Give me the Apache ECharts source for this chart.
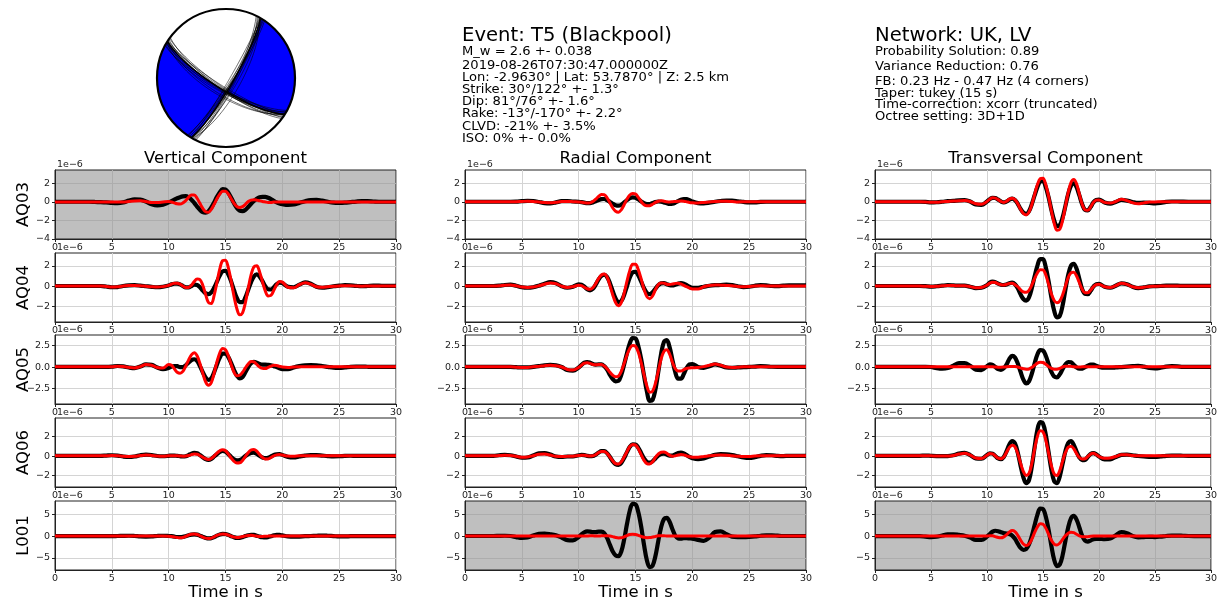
<!DOCTYPE html>
<html>
<head>
<meta charset="utf-8">
<script src="https://cdn.jsdelivr.net/npm/echarts@6/dist/echarts.min.js"></script>
<style>
html,body{margin:0;padding:0;background:#fff;}
#chart{width:1220px;height:602px;}
</style>
</head>
<body>
<div id="chart"></div>
<script>
// ---- sample times (s): 0.5 s steps outside the main arrivals, 0.25 s steps from 10 to 20 s
const TIME = [
  0,0.5,1,1.5,2,2.5,3,3.5,4,4.5,5,5.5,6,6.5,7,7.5,8,8.5,9,9.5,10,
  10.25,10.5,10.75,11,11.25,11.5,11.75,12, 12.25,12.5,12.75,13,13.25,13.5,13.75,14,
  14.25,14.5,14.75,15,15.25,15.5,15.75,16, 16.25,16.5,16.75,17,17.25,17.5,17.75,18,
  18.25,18.5,18.75,19,19.25,19.5,19.75,20,
  20.5,21,21.5,22,22.5,23,23.5,24,24.5,25,25.5,26,26.5,27,27.5,28,28.5,29,29.5,30
];

const STATIONS = ['AQ03', 'AQ04', 'AQ05', 'AQ06', 'L001'];
const COMPONENTS = ['Vertical Component', 'Radial Component', 'Transversal Component'];
const X_TICKS = [0, 5, 10, 15, 20, 25, 30];
const Y_TICKS = [[-4, -2, 0, 2], [-2, 0, 2], [-2.5, 0, 2.5], [-2, 0, 2], [-5, 0, 5]];
const Y_RANGE = [[-4.0, 3.45], [-3.5, 3.25], [-4.27, 3.7], [-3.2, 3.93], [-7.75, 8.07]];
const AMPLITUDE_UNIT = '1e\u22126';

// ---- waveforms in units of 1e-6 (black = observed, red = synthetic)
const vertAQ03Obs = [
  0.02,0.02,0.02,0.02,0.02,0.02,0.02,0,-0.02,-0.05,-0.1,-0.12,-0.05,0.15,0.28,0.25,0.05,-0.25,-0.38,-0.3,-0.05,
  0.1,0.25,0.4,0.52,0.6,0.62,0.5,0.25, -0.1,-0.5,-0.85,-1.1,-1.15,-1,-0.6,-0.05, 0.55,1.05,1.38,1.35,1,0.45,-0.15,-0.65, -0.95,-1,-0.85,-0.55,-0.2,0.1,0.35,0.5, 0.55,0.55,0.45,0.3,0.12,-0.05,-0.18,-0.25,
  -0.32,-0.28,-0.1,0.08,0.2,0.22,0.15,0.02,-0.08,-0.1, -0.08,-0.02,0.04,0.08,0.08,0.05,0.02,0.02,0.02,0.02
];
const vertAQ03Syn = [
  0,0,0,0,0,0,0,0,0,0,0,0,0,0.05,0.1,0.12,0.05,-0.05,-0.05,0,0.05,
  0,-0.1,-0.2,-0.22,-0.1,0.15,0.5,0.75, 0.75,0.4,-0.15,-0.7,-1.05,-1.1,-0.8,-0.25, 0.35,0.85,1.15,1.15,0.85,0.35,-0.15,-0.5, -0.6,-0.5,-0.25,0.05,0.2,0.25,0.2,0.12, 0.05,0,-0.05,-0.05,0,0,0,0,
  0,0,0,0,0,0,0,0,0,0, 0,0,0,0,0,0,0,0,0,0
];
const vertAQ04Obs = [
  0.02,0.02,0.02,0.02,0.02,0.02,0.02,0.02,0.02,-0.03,-0.1,-0.08,0.02,0.08,0.1,0.06,0,-0.06,-0.1,-0.05,0.08,
  0.18,0.24,0.25,0.18,0.02,-0.12,-0.12,0.02, 0.15,0.12,-0.1,-0.42,-0.7,-0.78,-0.6,-0.15, 0.45,1.05,1.45,1.5,1.15,0.45,-0.4,-1.15, -1.55,-1.55,-1.1,-0.35,0.4,0.95,1.15,0.95, 0.5,0,-0.3,-0.32,-0.1,0.2,0.35,0.3,
  -0.05,-0.1,0.15,0.38,0.25,-0.05,-0.15,-0.1,0,0.05, 0.1,0.08,0.03,0,0.02,0.05,0.05,0.03,0.03,0.03
];
const vertAQ04Syn = [
  0.02,0.02,0.02,0.02,0.02,0.02,0.02,0.02,0.02,-0.02,-0.08,-0.06,0.02,0.06,0.08,0.05,0,-0.05,-0.08,-0.04,0.08,
  0.2,0.3,0.3,0.2,0.02,-0.12,-0.12,0.1, 0.45,0.7,0.65,0.1,-0.8,-1.6,-1.7,-0.9, 0.4,1.7,2.5,2.55,1.8,0.5,-1,-2.2, -2.8,-2.6,-1.6,-0.2,1.1,1.9,2,1.4, 0.45,-0.45,-0.95,-0.9,-0.4,0.15,0.45,0.4,
  -0.1,-0.15,0.15,0.35,0.2,-0.05,-0.1,-0.05,0,0.03, 0.05,0.05,0.02,0,0.02,0.03,0.03,0.02,0.02,0.02
];
const vertAQ05Obs = [
  0.02,0.02,0.02,0.02,0.02,0.02,0.02,0.02,0.02,0.02,0.05,0.12,0.08,-0.05,-0.12,0.05,0.3,0.25,-0.05,-0.25,-0.12,
  0.05,0.12,0.1,0,0,0.2,0.5,0.8, 0.9,0.7,0.1,-0.6,-1.2,-1.5,-1.3,-0.6, 0.3,1.1,1.55,1.55,1.15,0.45,-0.35,-1, -1.3,-1.15,-0.6,0,0.45,0.6,0.5,0.35, 0.28,0.28,0.25,0.2,0.1,0,-0.15,-0.25,
  -0.25,-0.05,0.1,0.2,0.22,0.2,0.12,0.02,-0.08,-0.1, -0.05,0.02,0.05,0.05,0.03,0.02,0.02,0.02,0.02,0.02
];
const vertAQ05Syn = [
  0.02,0.02,0.02,0.02,0.02,0.02,0.02,0.02,0.02,0.02,0.04,0.1,0.06,-0.04,-0.1,0.05,0.28,0.2,-0.05,-0.12,0.3,
  0.2,-0.2,-0.6,-0.72,-0.5,0.1,0.8,1.4, 1.65,1.3,0.4,-0.7,-1.7,-2.1,-1.8,-0.7, 0.6,1.65,2.15,2,1.3,0.3,-0.6,-1, -0.95,-0.6,-0.1,0.35,0.65,0.6,0.3,0, -0.15,-0.18,-0.05,0.1,0.2,0.18,0.08,0,
  -0.05,0,0.02,0.02,0.02,0.02,0.02,0.02,0.02,0.02, 0.02,0.02,0.02,0.02,0.02,0.02,0.02,0.02,0.02,0.02
];
const vertAQ06Obs = [
  0.02,0.02,0.02,0.02,0.02,0.02,0.02,0.02,0.02,0.05,0.08,0.05,-0.05,-0.1,-0.05,0.08,0.15,0.1,0,-0.02,0.02,
  0.05,0.05,0.02,-0.02,-0.05,-0.02,0.1,0.25, 0.32,0.28,0.1,-0.12,-0.32,-0.4,-0.3,-0.05, 0.2,0.42,0.52,0.45,0.2,-0.1,-0.35,-0.45, -0.42,-0.25,0,0.2,0.32,0.35,0.22,0.02, -0.15,-0.22,-0.18,-0.05,0.1,0.18,0.2,0.12,
  -0.1,-0.15,-0.05,0.05,0.1,0.1,0.05,0,-0.03,-0.02, 0.02,0.03,0.02,0.02,0.02,0.02,0.02,0.02,0.02,0.02
];
const vertAQ06Syn = [
  0.02,0.02,0.02,0.02,0.02,0.02,0.02,0.02,0.02,0.03,0.05,0.03,-0.03,-0.06,-0.03,0.05,0.1,0.06,0,-0.02,0.02,
  0.03,0.03,0.02,0,-0.02,0,0.05,0.15, 0.2,0.18,0.05,-0.12,-0.28,-0.35,-0.25,0, 0.3,0.55,0.65,0.55,0.2,-0.2,-0.55,-0.72, -0.7,-0.45,-0.05,0.35,0.62,0.68,0.5,0.15, -0.15,-0.3,-0.3,-0.15,0.02,0.12,0.15,0.1,
  0,-0.02,0.02,0.02,0.02,0.02,0.02,0.02,0.02,0.02, 0.02,0.02,0.02,0.02,0.02,0.02,0.02,0.02,0.02,0.02
];
const vertL001Obs = [
  0.02,0.02,0.02,0.02,0.02,0.02,0.02,0.02,0.02,0.02,0.02,0.05,0.08,0.1,0.05,-0.05,-0.08,-0.05,0.05,0.1,0.05,
  0,-0.1,-0.18,-0.2,-0.15,0,0.2,0.35, 0.42,0.35,0.12,-0.15,-0.38,-0.5,-0.45,-0.2, 0.12,0.4,0.52,0.5,0.3,0,-0.25,-0.38, -0.38,-0.22,0.02,0.22,0.32,0.3,0.12,-0.1, -0.25,-0.3,-0.2,0,0.2,0.32,0.3,0.18,
  -0.05,-0.12,-0.08,0,0.05,0.1,0.15,0.1,0.02,-0.05, -0.05,0,0.02,0.02,0.02,0.02,0.02,0.02,0.02,0.02
];
const vertL001Syn = [
  0.02,0.02,0.02,0.02,0.02,0.02,0.02,0.02,0.02,0.02,0.02,0.02,0.02,0.02,0.02,0.02,0.02,0.02,0.02,0.02,0,
  -0.05,-0.18,-0.3,-0.38,-0.3,-0.05,0.25,0.45, 0.5,0.4,0.1,-0.2,-0.45,-0.55,-0.45,-0.15, 0.18,0.42,0.5,0.45,0.25,-0.02,-0.22,-0.3, -0.25,-0.1,0.08,0.18,0.2,0.12,0.02,-0.05, -0.05,0,0.02,0.04,0.05,0.05,0.03,0.02,
  0.02,0.02,0.02,0.02,0.02,0.02,0.02,0.02,0.02,0.02, 0.02,0.02,0.02,0.02,0.02,0.02,0.02,0.02,0.02,0.02
];

const radAQ03Obs = [
  0.02,0.02,0.02,0.02,0.02,0.02,0.02,0.02,0.02,0.03,0.08,0.12,0.1,0,-0.12,-0.15,-0.05,0.08,0.1,0.05,0.02,
  -0.02,-0.08,-0.12,-0.12,-0.05,0.08,0.2,0.3, 0.32,0.2,0,-0.2,-0.35,-0.4,-0.3,-0.05, 0.2,0.42,0.5,0.45,0.28,0.05,-0.12,-0.22, -0.22,-0.12,0,0.05,0.02,-0.05,-0.15,-0.22, -0.2,-0.08,0.1,0.25,0.32,0.3,0.2,0.05,
  -0.12,-0.15,-0.08,0.02,0.1,0.15,0.15,0.08,0,-0.05, -0.05,0,0.02,0.02,0.02,0.02,0.02,0.02,0.02,0.02
];
const radAQ03Syn = [
  0.02,0.02,0.02,0.02,0.02,0.02,0.02,0.02,0.02,0.02,0.05,0.08,0.06,0,-0.06,-0.08,-0.03,0.04,0.05,0.03,0,
  -0.02,-0.08,-0.12,-0.1,0.05,0.3,0.6,0.8, 0.78,0.45,-0.1,-0.65,-1,-1.1,-0.85,-0.3, 0.3,0.75,0.92,0.85,0.5,0.05,-0.3,-0.42, -0.4,-0.25,-0.05,0.08,0.12,0.08,0.02,0, 0.02,0.05,0.08,0.1,0.08,0.02,-0.05,-0.08,
  -0.1,-0.05,0,0.05,0.08,0.08,0.05,0,0.02,0.02, 0.02,0.02,0.02,0.02,0.02,0.02,0.02,0.02,0.02,0.02
];
const radAQ04Obs = [
  0.02,0.02,0.02,0.02,0.02,0.02,0.05,0.12,0.15,0.05,-0.1,-0.15,-0.1,0.05,0.25,0.4,0.3,0,-0.15,-0.05,0.18,
  0.15,-0.05,-0.3,-0.4,-0.25,0.15,0.65,1, 1.12,0.9,0.3,-0.5,-1.2,-1.55,-1.45,-0.85, 0,0.85,1.35,1.4,1.05,0.45,-0.2,-0.65, -0.78,-0.6,-0.25,0.1,0.28,0.3,0.2,0.1, 0.08,0.15,0.25,0.3,0.25,0.1,-0.05,-0.15,
  -0.15,-0.05,0.05,0.1,0.12,0.15,0.1,0,-0.08,-0.05, 0.05,0.1,0.08,0.02,0,0.05,0.08,0.08,0.08,0.08
];
const radAQ04Syn = [
  0.02,0.02,0.02,0.02,0.02,0.02,0.04,0.1,0.12,0.04,-0.08,-0.12,-0.08,0.04,0.2,0.32,0.25,0,-0.12,-0.04,0.1,
  0.05,-0.1,-0.25,-0.3,-0.15,0.25,0.75,1.1, 1.2,0.9,0.1,-0.85,-1.6,-1.9,-1.6,-0.7, 0.5,1.55,2.15,2.15,1.6,0.7,-0.3,-1, -1.22,-0.95,-0.35,0.15,0.32,0.3,0.2,0.18, 0.22,0.28,0.3,0.22,0.08,-0.05,-0.18,-0.28,
  -0.28,-0.05,0.08,0.12,0.1,0.08,0.05,-0.02,-0.05,-0.02, 0.03,0.05,0.03,0.03,0.03,0.03,0.03,0.03,0.03,0.03
];
const radAQ05Obs = [
  0.02,0.02,0.02,0.02,0.02,0.02,0.02,0.02,0.02,-0.02,-0.05,-0.05,0.02,0.1,0.2,0.25,0.2,0,-0.35,-0.42,-0.05,
  0.25,0.5,0.58,0.5,0.35,0.28,0.3,0.3, 0.1,-0.3,-0.9,-1.4,-1.65,-1.6,-0.9,0.3, 1.6,2.75,3.35,3.3,2.4,0.9,-1,-2.8, -3.9,-3.8,-2.6,-0.6,1.5,2.9,3.1,2.3, 0.8,-0.6,-1.35,-1.35,-0.8,-0.1,0.3,0.35,
  0,-0.1,0.1,0.3,0.15,-0.05,-0.08,-0.05,-0.02,0.02, 0.05,0.1,0.08,0.03,0.02,0.02,0.02,0.02,0.02,0.02
];
const radAQ05Syn = [
  0.02,0.02,0.02,0.02,0.02,0.02,0.02,0.02,0.02,-0.02,-0.04,-0.04,0.02,0.08,0.15,0.2,0.15,0,-0.28,-0.35,-0.05,
  0.22,0.45,0.5,0.42,0.3,0.25,0.28,0.28, 0.12,-0.2,-0.6,-0.95,-1.12,-1.05,-0.5,0.4, 1.4,2.15,2.5,2.4,1.7,0.5,-0.9,-2.2, -2.9,-2.8,-1.9,-0.5,0.9,1.8,2,1.5, 0.55,-0.2,-0.45,-0.45,-0.3,-0.15,-0.1,-0.08,
  -0.05,0.05,0.2,0.35,0.2,0,-0.05,-0.03,0.02,0.02, 0.02,0.02,0.02,0.02,0.02,0.02,0.02,0.02,0.02,0.02
];
const radAQ06Obs = [
  0.02,0.02,0.02,0.02,0.02,0.02,0.08,0.12,0.08,-0.05,-0.18,-0.15,0.05,0.28,0.3,0.15,-0.05,-0.1,-0.05,-0.05,0.08,
  0.12,0.1,0.02,-0.02,0,0.15,0.35,0.5, 0.5,0.3,-0.1,-0.55,-0.85,-0.92,-0.7,-0.2, 0.4,0.95,1.22,1.2,0.85,0.3,-0.25,-0.6, -0.68,-0.55,-0.25,0.05,0.22,0.25,0.15,0.05, 0.05,0.18,0.32,0.36,0.28,0.1,-0.08,-0.22,
  -0.33,-0.25,-0.05,0.12,0.2,0.18,0.1,-0.02,-0.15,-0.2, -0.12,0.02,0.1,0.08,0.02,0,0.02,0.02,0.02,0.02
];
const radAQ06Syn = [
  0.02,0.02,0.02,0.02,0.02,0.02,0.05,0.08,0.05,-0.03,-0.12,-0.1,0.03,0.18,0.2,0.1,-0.03,-0.05,-0.03,-0.02,0.05,
  0.08,0.08,0.02,0,0.02,0.15,0.35,0.48, 0.48,0.28,-0.1,-0.5,-0.78,-0.82,-0.6,-0.1, 0.45,0.98,1.2,1.15,0.75,0.15,-0.45,-0.78, -0.82,-0.6,-0.15,0.2,0.4,0.42,0.28,0.08, -0.02,0.02,0.1,0.15,0.12,0.02,-0.08,-0.12,
  -0.12,-0.05,0.02,0.08,0.1,0.08,0.02,-0.02,-0.05,-0.05, 0,0.02,0.02,0.02,0.02,0.02,0.02,0.02,0.02,0.02
];
const radL001Obs = [
  0.05,0.05,0.05,0.05,0.05,0.05,0.08,0.1,0.05,-0.2,-0.4,-0.3,0.15,0.55,0.6,0.45,0.2,-0.3,-0.9,-0.95,-0.2,
  0.4,0.9,1.1,1.05,0.95,0.95,1.05,1.05, 0.7,-0.4,-2,-3.5,-4.4,-4.6,-3.5,-0.8, 2.8,5.9,7.4,7.3,5.5,2.2,-2,-5.5, -7.1,-6.8,-4.6,-1.2,2,3.9,4.2,3.3, 1.6,0.1,-0.5,-0.55,-0.45,-0.45,-0.5,-0.55,
  -0.85,-1.05,-0.3,0.95,1.1,0.45,-0.1,-0.2,-0.2,-0.15, -0.05,0.1,0.2,0.2,0.12,0.05,0.05,0.05,0.05,0.05
];
const radL001Syn = [
  0.02,0.02,0.02,0.02,0.02,0.02,0.02,0.02,0.02,0.02,0.02,0.02,0.02,0.02,0.02,0.02,0.02,0.02,0.02,0.02,0.02,
  0.02,0.02,0.05,0.08,0.08,0.05,0.05,0.08, 0.1,0.1,0.05,-0.1,-0.3,-0.4,-0.38,-0.15, 0.15,0.38,0.45,0.4,0.2,-0.05,-0.25,-0.35, -0.32,-0.2,-0.05,0.08,0.12,0.1,0.05,0.02, 0.02,0.02,0.02,0.02,0.02,0.02,0.02,0.02,
  0.02,0.02,0.02,0.02,0.02,0.02,0.02,0.02,0.02,0.02, 0.02,0.02,0.02,0.02,0.02,0.02,0.02,0.02,0.02,0.02
];

const transAQ03Obs = [
  0.02,0.02,0.02,0.02,0.02,0.02,0.02,0.02,0.02,0,-0.05,-0.03,0.02,0.08,0.12,0.18,0.2,0.05,-0.28,-0.32,0.05,
  0.3,0.45,0.42,0.25,0.05,-0.05,0.05,0.25, 0.35,0.2,-0.2,-0.75,-1.15,-1.28,-1,-0.25, 0.7,1.6,2.2,2.25,1.6,0.5,-0.85,-2, -2.6,-2.5,-1.7,-0.45,0.85,1.75,2,1.6, 0.7,-0.25,-0.85,-0.9,-0.55,-0.05,0.22,0.25,
  -0.05,-0.18,0,0.22,0.15,0,-0.1,-0.08,-0.1,-0.15, -0.1,0,0.05,0.05,0.03,0.02,0.02,0.02,0.02,0.02
];
const transAQ03Syn = [
  0.02,0.02,0.02,0.02,0.02,0.02,0.02,0.02,0.02,0,-0.04,-0.02,0.02,0.06,0.1,0.12,0.15,0.05,-0.2,-0.25,0.05,
  0.3,0.45,0.42,0.25,0.05,-0.05,0.08,0.3, 0.4,0.25,-0.2,-0.8,-1.25,-1.4,-1.1,-0.3, 0.8,1.85,2.5,2.55,1.85,0.6,-0.95,-2.3, -3.05,-2.95,-2,-0.5,1,2.1,2.42,1.95, 0.85,-0.25,-0.85,-0.9,-0.55,-0.05,0.2,0.22,
  -0.05,-0.12,0.05,0.28,0.15,-0.08,-0.2,-0.1,0,0, 0.02,0.02,0.02,0.02,0.02,0.02,0.02,0.02,0.02,0.02
];
const transAQ04Obs = [
  0.02,0.02,0.02,0.02,0.02,0.02,0.02,0.02,0.02,0,-0.03,0,0.05,0.1,0.08,0.05,0.05,-0.05,-0.18,-0.15,0.1,
  0.35,0.45,0.4,0.25,0.15,0.12,0.18,0.3, 0.35,0.2,-0.2,-0.8,-1.25,-1.4,-1.1,-0.2, 0.95,2,2.65,2.65,1.85,0.5,-1.1,-2.4, -3.05,-2.9,-1.9,-0.35,1.1,2,2.2,1.7, 0.7,-0.3,-0.75,-0.78,-0.45,-0.05,0.2,0.22,
  -0.05,-0.15,0.05,0.28,0.2,-0.05,-0.18,-0.12,-0.02,0, 0.02,0.05,0.05,0.05,0.03,0.03,0.03,0.03,0.03,0.03
];
const transAQ04Syn = [
  0.02,0.02,0.02,0.02,0.02,0.02,0.02,0.02,0.02,0,-0.02,0,0.04,0.08,0.06,0.04,0.04,-0.04,-0.15,-0.12,0.1,
  0.3,0.4,0.36,0.22,0.15,0.12,0.18,0.28, 0.3,0.15,-0.05,-0.35,-0.55,-0.6,-0.4,0.1, 0.75,1.3,1.62,1.6,1.1,0.2,-0.75,-1.4, -1.62,-1.45,-0.85,0,0.85,1.3,1.36,1, 0.35,-0.3,-0.65,-0.65,-0.4,-0.05,0.15,0.2,
  -0.05,-0.12,0.05,0.28,0.18,-0.05,-0.15,-0.1,-0.02,0, 0.02,0.02,0.02,0.02,0.02,0.02,0.02,0.02,0.02,0.02
];
const transAQ05Obs = [
  0.02,0.02,0.02,0.02,0.02,0.02,0.02,0.02,0.02,0.02,0,-0.12,-0.18,-0.12,0.15,0.45,0.45,0.15,-0.3,-0.35,0.1,
  0.3,0.25,0,-0.25,-0.32,-0.15,0.3,0.95, 1.28,1.1,0.4,-0.55,-1.45,-1.9,-1.65,-0.8, 0.4,1.45,1.95,1.9,1.3,0.35,-0.55,-1.1, -1.2,-0.85,-0.25,0.3,0.58,0.55,0.25,-0.05, -0.2,-0.18,-0.02,0.15,0.28,0.28,0.15,0.02,
  -0.08,-0.08,-0.05,0,0.05,0.1,0.15,0.05,-0.1,-0.15, -0.08,0.05,0.1,0.08,0.02,0.02,0.02,0.02,0.02,0.02
];
const transAQ05Syn = [
  0.02,0.02,0.02,0.02,0.02,0.02,0.02,0.02,0.02,0.02,0.02,0.02,0.02,0.02,0.02,0.02,0.02,0.02,0.02,0.02,0.02,
  0.02,0.02,0,-0.02,-0.02,0,0.03,0.05, 0.06,0.05,0,-0.1,-0.2,-0.25,-0.22,-0.05, 0.2,0.45,0.56,0.52,0.32,0.05,-0.15,-0.25, -0.25,-0.15,0,0.08,0.1,0.08,0.02,0, 0,0.02,0.02,0.02,0.02,0.02,0.02,0.02,
  0.02,0.02,0.02,0.02,0.02,0.02,0.02,0.02,0.02,0.02, 0.02,0.02,0.02,0.02,0.02,0.02,0.02,0.02,0.02,0.02
];
const transAQ06Obs = [
  0.02,0.02,0.02,0.02,0.02,0.02,0.02,0.02,0.02,0.05,0.02,0,0,0,0.08,0.25,0.32,0.1,-0.25,-0.28,0.1,
  0.28,0.25,0,-0.25,-0.32,-0.1,0.5,1.2, 1.55,1.3,0.35,-1,-2.2,-2.8,-2.5,-1.1, 0.9,2.7,3.5,3.35,2.2,0.4,-1.4,-2.6, -2.8,-2.1,-0.8,0.5,1.35,1.55,1.15,0.45, -0.15,-0.42,-0.4,-0.1,0.2,0.3,0.18,-0.05,
  -0.35,-0.35,-0.1,0.12,0.15,0.08,0,-0.05,-0.08,-0.1, -0.05,0.02,0.05,0.05,0.03,0.02,0.02,0.02,0.02,0.02
];
const transAQ06Syn = [
  0.02,0.02,0.02,0.02,0.02,0.02,0.02,0.02,0.02,0.04,0.02,0,0,0,0.06,0.2,0.28,0.1,-0.2,-0.25,0.08,
  0.25,0.22,0,-0.22,-0.28,-0.1,0.4,0.9, 1.12,0.95,0.25,-0.75,-1.6,-2,-1.8,-0.8, 0.7,2,2.6,2.5,1.65,0.3,-1,-1.85, -2,-1.5,-0.55,0.35,0.9,1.02,0.75,0.25, -0.15,-0.3,-0.28,-0.05,0.2,0.28,0.15,-0.05,
  -0.22,-0.2,-0.05,0.12,0.12,0.05,0.02,0.02,0.02,0.02, 0.02,0.02,0.02,0.02,0.02,0.02,0.02,0.02,0.02,0.02
];
const transL001Obs = [
  0.03,0.03,0.03,0.03,0.03,0.03,0.03,0.03,0,-0.1,-0.2,-0.12,0.15,0.4,0.45,0.3,0.1,-0.3,-0.85,-0.85,-0.1,
  0.5,1.05,1.25,1.15,0.9,0.7,0.6,0.5, 0.15,-0.6,-1.7,-2.7,-3.15,-2.95,-1.9,0, 2.5,4.9,6.3,6.2,4.5,1.5,-2.2,-5.4, -6.85,-6.5,-4.4,-1.1,2,4.1,4.65,3.8, 2,0.1,-1,-1.25,-1,-0.7,-0.6,-0.6,
  -0.7,-0.55,0.2,0.95,0.7,0.05,-0.25,-0.2,-0.15,-0.2, -0.1,0.05,0.15,0.15,0.1,0.05,0.03,0.03,0.03,0.03
];
const transL001Syn = [
  0.02,0.02,0.02,0.02,0.02,0.02,0.02,0.02,0.02,0.02,0.02,0.02,0.02,0.02,0.02,0.02,0.02,0.02,0.02,0.02,0.05,
  0.1,0.08,-0.1,-0.3,-0.38,-0.15,0.35,0.95, 1.3,1.05,0.2,-0.9,-1.8,-2.15,-1.8,-0.7, 0.8,2.1,2.85,2.75,1.85,0.45,-0.95,-1.8, -2,-1.6,-0.75,0.1,0.7,0.92,0.8,0.45, 0.1,-0.1,-0.15,-0.1,-0.02,0.02,0.02,0.02,
  0.02,0.02,0.02,0.02,0.02,0.02,0.02,0.02,0.02,0.02, 0.02,0.02,0.02,0.02,0.02,0.02,0.02,0.02,0.02,0.02
];

// rows = stations, columns = components
const OBSERVED = [
  [vertAQ03Obs, radAQ03Obs, transAQ03Obs],
  [vertAQ04Obs, radAQ04Obs, transAQ04Obs],
  [vertAQ05Obs, radAQ05Obs, transAQ05Obs],
  [vertAQ06Obs, radAQ06Obs, transAQ06Obs],
  [vertL001Obs, radL001Obs, transL001Obs]
];
const SYNTHETIC = [
  [vertAQ03Syn, radAQ03Syn, transAQ03Syn],
  [vertAQ04Syn, radAQ04Syn, transAQ04Syn],
  [vertAQ05Syn, radAQ05Syn, transAQ05Syn],
  [vertAQ06Syn, radAQ06Syn, transAQ06Syn],
  [vertL001Syn, radL001Syn, transL001Syn]
];
// traces excluded from the inversion get a grey face
const EXCLUDED = [[0, 0], [4, 1], [4, 2]];

// ---- source solution
const STRIKES = [30, 122];
const DIPS = [81, 76];
const RAKES = [-13, -170];
// alternative solutions of the ensemble: [strike1, dip1, strike2, dip2]
const ENSEMBLE = [
  [30, 81, 122, 76], [28, 80, 120, 77], [32, 82, 124, 75], [31, 79, 121, 74],
  [29, 83, 123, 78], [27, 78, 119, 73], [33, 84, 125, 79], [30, 76, 122, 70],
  [26, 80, 118, 76], [34, 82, 126, 76], [30, 86, 122, 80], [29, 72, 121, 68]
];

const EVENT_TITLE = 'Event: T5 (Blackpool)';
const EVENT_LINES = [
  'M_w = 2.6 +- 0.038',
  '2019-08-26T07:30:47.000000Z',
  'Lon: -2.9630\u00b0 | Lat: 53.7870\u00b0 | Z: 2.5 km',
  'Strike: ' + STRIKES[0] + '\u00b0/' + STRIKES[1] + '\u00b0 +- 1.3\u00b0',
  'Dip: ' + DIPS[0] + '\u00b0/' + DIPS[1] + '\u00b0 +- 1.6\u00b0',
  'Rake: ' + RAKES[0] + '\u00b0/' + RAKES[1] + '\u00b0 +- 2.2\u00b0',
  'CLVD: -21% +- 3.5%',
  'ISO: 0% +- 0.0%'
];
const NETWORK_TITLE = 'Network: UK, LV';
const NETWORK_LINES = [
  'Probability Solution: 0.89',
  'Variance Reduction: 0.76',
  'FB: 0.23 Hz - 0.47 Hz (4 corners)',
  'Taper: tukey (15 s)',
  'Time-correction: xcorr (truncated)',
  'Octree setting: 3D+1D'
];

// ---- layout
const FONT = 'DejaVu Sans';
const COL_LEFT = [55, 465, 875];
const ROW_TOP = [170, 253, 335, 418, 501];
const PANEL_W = 341, PANEL_H = 69;
const EVENT_Y = [51.5, 66, 77.5, 89.5, 101.5, 114, 127, 139];
const NETWORK_Y = [52, 67, 82, 93.5, 105, 116.5];

function pairs(vals) {
  if (vals.length !== TIME.length) throw new Error('trace length ' + vals.length + ' != ' + TIME.length);
  return TIME.map((t, i) => [t, vals[i]]);
}
function tickText(v, dec) {
  const s = Math.abs(v).toFixed(dec);
  return v < 0 ? '\u2212' + s : s;
}

const grids = [], xAxes = [], yAxes = [], series = [], graphics = [];

STATIONS.forEach((station, r) => {
  COMPONENTS.forEach((comp, c) => {
    const k = grids.length;
    const grey = EXCLUDED.some(p => p[0] === r && p[1] === c);
    const gridColor = grey ? '#adadad' : '#d4d4d4';
    grids.push({
      left: COL_LEFT[c], top: ROW_TOP[r], width: PANEL_W, height: PANEL_H,
      show: true, backgroundColor: grey ? '#bfbfbf' : '#ffffff',
      borderColor: '#222', borderWidth: 1
    });
    xAxes.push({
      gridIndex: k, type: 'value', min: X_TICKS[0], max: X_TICKS[X_TICKS.length - 1], interval: 5,
      axisLine: { show: true, onZero: false, lineStyle: { color: '#222', width: 1 } },
      axisTick: { show: true, length: 3, lineStyle: { color: '#222' } },
      axisLabel: { fontFamily: FONT, fontSize: 9.5, color: '#222', margin: 4 },
      splitLine: { show: true, lineStyle: { color: gridColor, width: 1 } }
    });
    const dec = r === 2 ? 1 : 0;
    yAxes.push({
      gridIndex: k, type: 'value', min: Y_RANGE[r][0], max: Y_RANGE[r][1],
      axisLine: { show: true, onZero: false, lineStyle: { color: '#222', width: 1 } },
      axisTick: { show: true, length: 3, customValues: Y_TICKS[r], lineStyle: { color: '#222' } },
      axisLabel: { customValues: Y_TICKS[r], fontFamily: FONT, fontSize: 9.5, color: '#222', margin: 5,
                   formatter: v => tickText(v, dec) },
      splitLine: { show: true, lineStyle: { color: gridColor, width: 1 } }
    });
    series.push({
      type: 'line', xAxisIndex: k, yAxisIndex: k, data: pairs(OBSERVED[r][c]),
      showSymbol: false, smooth: 0.35, silent: true, z: 2,
      lineStyle: { color: '#000000', width: 4.2 }
    });
    series.push({
      type: 'line', xAxisIndex: k, yAxisIndex: k, data: pairs(SYNTHETIC[r][c]),
      showSymbol: false, smooth: 0.35, silent: true, z: 3,
      lineStyle: { color: '#ff0000', width: 3 }
    });
    // scale factor of the amplitude axis
    graphics.push({
      type: 'text', x: COL_LEFT[c] + 2, y: ROW_TOP[r] - 5,
      style: { text: AMPLITUDE_UNIT, fontFamily: FONT, fontSize: 9.5, fill: '#222',
               textAlign: 'left', textVerticalAlign: 'middle', align: 'left', verticalAlign: 'middle' }
    });
  });
  graphics.push({
    type: 'text', x: 24, y: ROW_TOP[r] + PANEL_H / 2, rotation: Math.PI / 2,
    style: { text: station, fontFamily: FONT, fontSize: 16.5, fill: '#000',
             textAlign: 'center', textVerticalAlign: 'middle', align: 'center', verticalAlign: 'middle' }
  });
});

COMPONENTS.forEach((comp, c) => {
  const cx = COL_LEFT[c] + PANEL_W / 2;
  graphics.push({
    type: 'text', x: cx, y: 159,
    style: { text: comp, fontFamily: FONT, fontSize: 16.5, fill: '#000',
             textAlign: 'center', textVerticalAlign: 'middle', align: 'center', verticalAlign: 'middle' }
  });
  graphics.push({
    type: 'text', x: cx, y: 593,
    style: { text: 'Time in s', fontFamily: FONT, fontSize: 16.5, fill: '#000',
             textAlign: 'center', textVerticalAlign: 'middle', align: 'center', verticalAlign: 'middle' }
  });
});

function infoText(x, y, text, size) {
  return { type: 'text', x: x, y: y,
    style: { text: text, fontFamily: FONT, fontSize: size, fill: '#000',
             textAlign: 'left', textVerticalAlign: 'middle', align: 'left', verticalAlign: 'middle' } };
}
graphics.push(infoText(462, 35.5, EVENT_TITLE, 19.6));
EVENT_LINES.forEach((t, i) => graphics.push(infoText(462, EVENT_Y[i], t, 13.1)));
graphics.push(infoText(875, 35.5, NETWORK_TITLE, 19.6));
NETWORK_LINES.forEach((t, i) => graphics.push(infoText(875, NETWORK_Y[i], t, 13.1)));

// ---- focal mechanism, lower-hemisphere equal-area projection
const BALL = { cx: 226, cy: 78, r: 69 };
const D2R = Math.PI / 180;
function project(az, plunge) {
  const rr = BALL.r * Math.SQRT2 * Math.sin((90 - plunge) / 2 * D2R);
  return [BALL.cx + rr * Math.sin(az * D2R), BALL.cy - rr * Math.cos(az * D2R)];
}
function nodal(strike, dip, a0, a1) {
  const pts = [];
  const n = Math.max(2, Math.ceil(Math.abs(a1 - a0) / 1.5));
  for (let i = 0; i <= n; i++) {
    const a = a0 + (a1 - a0) * i / n;
    const p = Math.atan(Math.tan(dip * D2R) * Math.sin((a - strike) * D2R)) / D2R;
    pts.push(project(a, p));
  }
  return pts;
}
function arc(a0, a1) {
  const pts = [];
  const n = Math.max(2, Math.ceil(Math.abs(a1 - a0) / 2));
  for (let i = 0; i <= n; i++) pts.push(project(a0 + (a1 - a0) * i / n, 0));
  return pts;
}
function planeNormal(s, d) {
  return [-Math.sin(d * D2R) * Math.sin(s * D2R), Math.sin(d * D2R) * Math.cos(s * D2R), -Math.cos(d * D2R)];
}
const n1 = planeNormal(STRIKES[0], DIPS[0]), n2 = planeNormal(STRIKES[1], DIPS[1]);
let bAxis = [n1[1] * n2[2] - n1[2] * n2[1], n1[2] * n2[0] - n1[0] * n2[2], n1[0] * n2[1] - n1[1] * n2[0]];
if (bAxis[2] < 0) bAxis = bAxis.map(v => -v);
const azB = Math.atan2(bAxis[1], bAxis[0]) / D2R;
function onPlane(az, strike) { let a = az; while (a < strike) a += 360; while (a > strike + 180) a -= 360; return a; }
const aB1 = onPlane(azB, STRIKES[0]), aB2 = onPlane(azB, STRIKES[1]);

const eastQuadrant = [].concat(
  nodal(STRIKES[0], DIPS[0], STRIKES[0], aB1),
  nodal(STRIKES[1], DIPS[1], aB2, STRIKES[1]),
  arc(STRIKES[1], STRIKES[0])
);
const westQuadrant = [].concat(
  nodal(STRIKES[1], DIPS[1], aB2, STRIKES[1] + 180),
  arc(STRIKES[1] + 180, STRIKES[0] + 180),
  nodal(STRIKES[0], DIPS[0], STRIKES[0] + 180, aB1)
);

graphics.push({ type: 'circle', shape: { cx: BALL.cx, cy: BALL.cy, r: BALL.r }, style: { fill: '#ffffff', stroke: null } });
graphics.push({ type: 'polygon', shape: { points: eastQuadrant }, style: { fill: '#0000ff', stroke: null } });
graphics.push({ type: 'polygon', shape: { points: westQuadrant }, style: { fill: '#0000ff', stroke: null } });
ENSEMBLE.forEach(sol => {
  [[sol[0], sol[1]], [sol[2], sol[3]]].forEach(pl => {
    graphics.push({ type: 'polyline', shape: { points: nodal(pl[0], pl[1], pl[0], pl[0] + 180) },
      style: { stroke: '#000', lineWidth: 0.8, opacity: 0.7, fill: null } });
  });
});
graphics.push({ type: 'polyline', shape: { points: nodal(STRIKES[0], DIPS[0], STRIKES[0], STRIKES[0] + 180) },
  style: { stroke: '#000', lineWidth: 1.6, fill: null } });
graphics.push({ type: 'polyline', shape: { points: nodal(STRIKES[1], DIPS[1], STRIKES[1], STRIKES[1] + 180) },
  style: { stroke: '#000', lineWidth: 1.6, fill: null } });
graphics.push({ type: 'circle', shape: { cx: BALL.cx, cy: BALL.cy, r: BALL.r }, style: { fill: null, stroke: '#000', lineWidth: 2.2 } });

const chart = echarts.init(document.getElementById('chart'), null, { renderer: 'canvas' });
chart.setOption({
  animation: false,
  backgroundColor: '#ffffff',
  grid: grids,
  xAxis: xAxes,
  yAxis: yAxes,
  series: series,
  graphic: { elements: graphics }
});
</script>
</body>
</html>
